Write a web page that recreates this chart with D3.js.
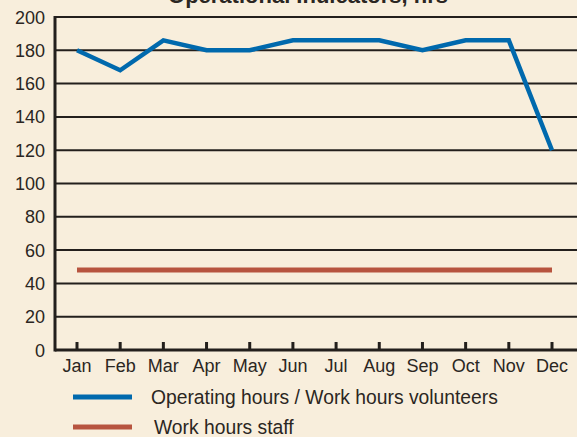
<!DOCTYPE html>
<html>
<head>
<meta charset="utf-8">
<script src="https://cdn.jsdelivr.net/npm/d3@7/dist/d3.min.js"></script>
<style>
  body { margin: 0; background: #f8eedc; overflow: hidden; }
  svg { display: block; }
  text { font-family: "Liberation Sans", Arial, sans-serif; fill: #2b2622; }
</style>
</head>
<body>
<div id="chart"></div>
<script>
var months = ["Jan", "Feb", "Mar", "Apr", "May", "Jun", "Jul", "Aug", "Sep", "Oct", "Nov", "Dec"];
var volunteers = [180, 168, 186, 180, 180, 186, 186, 186, 180, 186, 186, 120];
var staff = [48, 48, 48, 48, 48, 48, 48, 48, 48, 48, 48, 48];
var yTicks = [0, 20, 40, 60, 80, 100, 120, 140, 160, 180, 200];
var seriesNames = ["Operating hours / Work hours volunteers", "Work hours staff"];
var seriesColors = ["#0069ad", "#b7543f"];

var width = 577, height = 437;
var plotLeft = 55, plotRight = 577, plotTop = 17, plotBottom = 350;

var svg = d3.select("#chart").append("svg")
  .attr("width", width).attr("height", height);

var x = d3.scalePoint().domain(months).range([77, 552]);
var y = d3.scaleLinear().domain([0, 200]).range([plotBottom, plotTop]);

// title, cropped off at the top of the picture
svg.append("text").attr("x", 308).attr("y", 3)
  .attr("text-anchor", "middle")
  .style("font-size", "22px").style("font-weight", "bold")
  .text("Operational Indicators, hrs");

// gridlines
svg.append("g").selectAll("line").data(yTicks.filter(function (d) { return d > 0; }))
  .enter().append("line")
  .attr("x1", plotLeft).attr("x2", plotRight)
  .attr("y1", function (d) { return y(d); }).attr("y2", function (d) { return y(d); })
  .attr("stroke", "#231f1c").attr("stroke-width", 2);

// y labels
svg.append("g").selectAll("text").data(yTicks).enter().append("text")
  .attr("x", 45).attr("y", function (d) { return y(d) + 6.5; })
  .attr("text-anchor", "end").style("font-size", "18px")
  .text(function (d) { return d; });

// axes lines
svg.append("line").attr("x1", plotLeft).attr("x2", plotLeft)
  .attr("y1", plotTop - 1).attr("y2", plotBottom + 1.5)
  .attr("stroke", "#231f1c").attr("stroke-width", 3);
svg.append("line").attr("x1", plotLeft).attr("x2", plotRight)
  .attr("y1", plotBottom).attr("y2", plotBottom)
  .attr("stroke", "#231f1c").attr("stroke-width", 3);

// x ticks and labels
var xg = svg.append("g");
xg.selectAll("line").data(months).enter().append("line")
  .attr("x1", function (d) { return x(d); }).attr("x2", function (d) { return x(d); })
  .attr("y1", plotBottom - 8).attr("y2", plotBottom)
  .attr("stroke", "#231f1c").attr("stroke-width", 3);
xg.selectAll("text").data(months).enter().append("text")
  .attr("x", function (d) { return x(d); }).attr("y", 372)
  .attr("text-anchor", "middle").style("font-size", "18px")
  .text(function (d) { return d; });

var line = d3.line()
  .x(function (d, i) { return x(months[i]); })
  .y(function (d) { return y(d); });

svg.append("path").datum(staff).attr("d", line)
  .attr("fill", "none").attr("stroke", seriesColors[1]).attr("stroke-width", 5);
svg.append("path").datum(volunteers).attr("d", line)
  .attr("fill", "none").attr("stroke", seriesColors[0]).attr("stroke-width", 4.5);

// legend
var lg = svg.append("g").selectAll("g").data(seriesNames).enter().append("g")
  .attr("transform", function (d, i) { return "translate(0," + (397 + i * 30) + ")"; });
lg.append("line").attr("x1", 73).attr("x2", 132).attr("y1", 0).attr("y2", 0)
  .attr("stroke", function (d, i) { return seriesColors[i]; }).attr("stroke-width", 5);
lg.append("text").attr("x", function (d, i) { return i === 0 ? 151 : 154; }).attr("y", 7)
  .style("font-size", "19.3px")
  .text(function (d) { return d; });
</script>
</body>
</html>
